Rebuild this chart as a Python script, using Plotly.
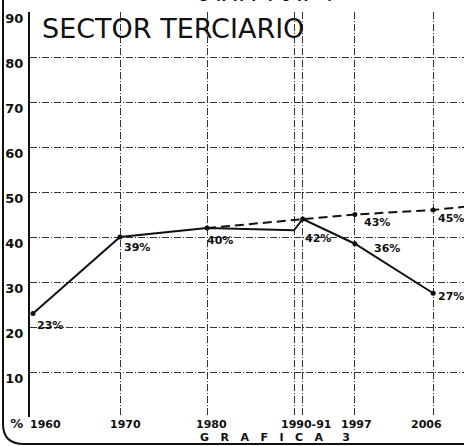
import plotly.graph_objects as go

# ---- data ----
solid_years = [1960, 1970, 1980, 1990, 1991, 1997, 2006]
solid_values = [23, 40, 42, 41.5, 44, 38.5, 27.5]

dashed_years = [1980, 1991, 1997, 2006, 2010]
dashed_values = [42, 44, 45, 46, 46.8]

label_years = [1960, 1970, 1980, 1991, 1997, 2006, 1997, 2006]
label_values = [23, 40, 42, 44, 38.5, 27.5, 45, 46]
label_texts = ["23%", "39%", "40%", "42%", "36%", "27%", "43%", "45%"]

x_grid_years = [1970, 1980, 1990, 1991, 1997, 2006]
x_label_years = [1960, 1970, 1980, 1990.5, 1997, 2006]
x_label_texts = ["1960", "1970", "1980", "1990-91", "1997", "2006"]

y_tick_vals = [0, 10, 20, 30, 40, 50, 60, 70, 80, 90]
y_tick_texts = ["%", "10", "20", "30", "40", "50", "60", "70", "80", "90"]

title_text = "SECTOR TERCIARIO"
caption_text = "G   R   A   F   I   C   A     3"
top_text = "G  R  A  F  I  C  A    4"

# ---- styling (not data) ----
label_nudges = [(2, -12), (2, -10), (-2, -12), (0, -19), (17, -5), (3, -3), (7, -8), (3, -8)]
x_label_nudges = [12, 5, 4, 8, 2, -7]

W, H = 464, 446
L, R, T, B = 30, 0, 12, 29
PW = W - L - R
PH = H - T - B


def pxx(xp):
    return (xp - L) / PW


def pxy(yp):
    return (H - B - yp) / PH


INK = "#111111"
FONT = "DejaVu Sans"

fig = go.Figure()

fig.add_trace(go.Scatter(
    x=dashed_years, y=dashed_values, mode="lines",
    line=dict(color=INK, width=2, dash="9px,5px"),
    hoverinfo="skip", showlegend=False,
))
fig.add_trace(go.Scatter(
    x=solid_years, y=solid_values, mode="lines",
    line=dict(color=INK, width=2),
    hoverinfo="skip", showlegend=False,
))
fig.add_trace(go.Scatter(
    x=label_years, y=label_values, mode="markers",
    marker=dict(color=INK, size=5),
    hoverinfo="skip", showlegend=False,
))

annotations = []
for yr, v, t, (dx, dy) in zip(label_years, label_values, label_texts, label_nudges):
    annotations.append(dict(
        x=yr, y=v, xref="x", yref="y", text=t, showarrow=False,
        xanchor="left", yanchor="middle", xshift=dx, yshift=dy,
        font=dict(family=FONT, size=11, color=INK, weight="bold"),
    ))

for yr, t, dx in zip(x_label_years, x_label_texts, x_label_nudges):
    annotations.append(dict(
        x=yr, y=pxy(424), xref="x", yref="paper", text=t, showarrow=False,
        xanchor="center", yanchor="middle", xshift=dx,
        font=dict(family=FONT, size=11, color=INK, weight="bold"),
    ))

annotations.append(dict(
    x=pxx(173), y=pxy(28), xref="paper", yref="paper", text=title_text,
    showarrow=False, xanchor="center", yanchor="middle",
    font=dict(family=FONT, size=27, color=INK, weight=500),
))
annotations.append(dict(
    x=pxx(275), y=pxy(437), xref="paper", yref="paper", text=caption_text,
    showarrow=False, xanchor="center", yanchor="middle",
    font=dict(family=FONT, size=11, color=INK, weight="bold"),
))
annotations.append(dict(
    x=pxx(265), y=pxy(-3), xref="paper", yref="paper", text=top_text,
    showarrow=False, xanchor="center", yanchor="middle",
    font=dict(family=FONT, size=12, color=INK, weight="bold"),
))

frame_path = (
    f"M {pxx(3)},{pxy(0)} L {pxx(3)},{pxy(424)} "
    f"Q {pxx(3)},{pxy(444)} {pxx(24)},{pxy(444)} L {pxx(464)},{pxy(444)}"
)

fig.update_layout(
    width=W, height=H,
    margin=dict(l=L, r=R, t=T, b=B, pad=0),
    paper_bgcolor="white", plot_bgcolor="white",
    showlegend=False,
    annotations=annotations,
    shapes=[dict(type="path", path=frame_path, xref="paper", yref="paper",
                 line=dict(color=INK, width=2), layer="above")],
    xaxis=dict(
        range=[1959.655, 1959.655 + PW / 8.7],
        tickvals=x_grid_years, showticklabels=False, ticks="",
        showgrid=True, gridcolor="#333333", gridwidth=1, griddash="7px,2px,1px,2px",
        zeroline=False, showline=False, fixedrange=True,
    ),
    yaxis=dict(
        range=[0, 90],
        tickvals=y_tick_vals, ticktext=y_tick_texts,
        ticks="", ticklabelshift=6, ticklabelstandoff=2,
        tickfont=dict(family=FONT, size=13, color=INK, weight="bold"),
        showgrid=True, gridcolor="#333333", gridwidth=1, griddash="7px,2px,1px,2px",
        zeroline=False, showline=True, linecolor=INK, linewidth=2, fixedrange=True,
    ),
)

fig.write_html(
    "out.html",
    config={"displayModeBar": False},
    post_script="document.body.style.margin='0';document.body.style.overflow='hidden';",
)
